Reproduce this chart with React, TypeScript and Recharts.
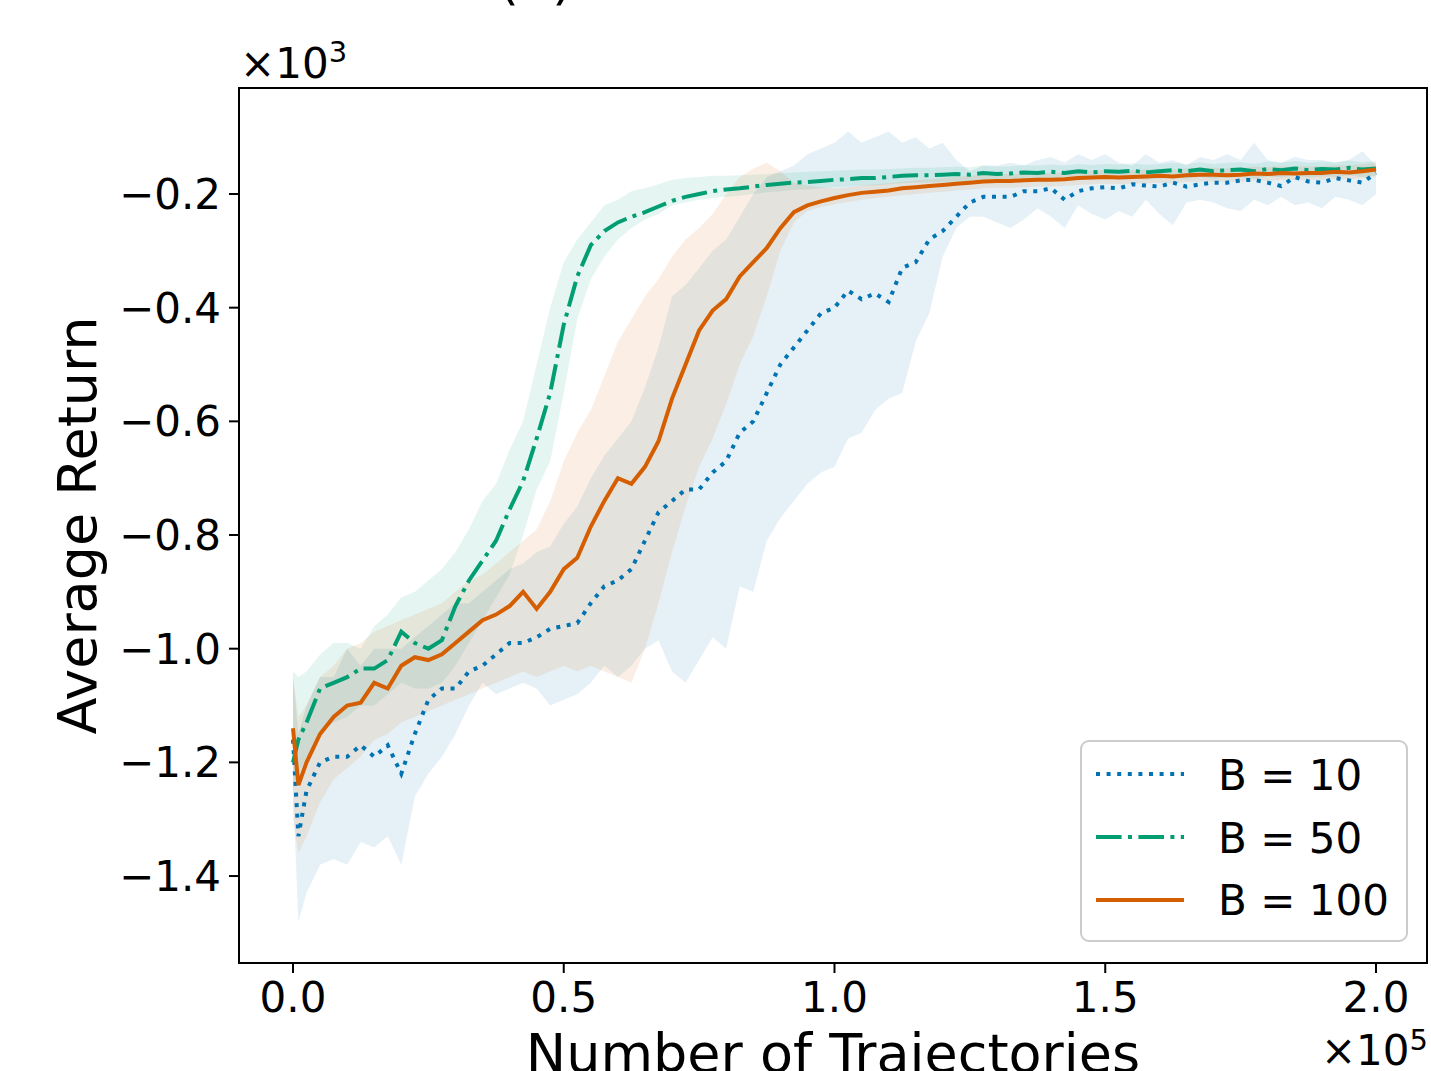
import React from 'react';
import { ComposedChart, Line, Area, XAxis, YAxis, ReferenceArea, Legend, Label } from 'recharts';

// number of trajectories (x 10^5)
const X = [
  0, 0.01, 0.025, 0.05, 0.075, 0.1, 0.125, 0.15, 0.175, 0.2,
  0.225, 0.25, 0.275, 0.3, 0.325, 0.35, 0.375, 0.4, 0.425, 0.45,
  0.475, 0.5, 0.525, 0.55, 0.575, 0.6, 0.625, 0.65, 0.675, 0.7,
  0.725, 0.75, 0.775, 0.8, 0.825, 0.85, 0.875, 0.9, 0.925, 0.95,
  0.975, 1.0, 1.025, 1.05, 1.075, 1.1, 1.125, 1.15, 1.175, 1.2,
  1.225, 1.25, 1.275, 1.3, 1.325, 1.35, 1.375, 1.4, 1.425, 1.45,
  1.475, 1.5, 1.525, 1.55, 1.575, 1.6, 1.625, 1.65, 1.675, 1.7,
  1.725, 1.75, 1.775, 1.8, 1.825, 1.85, 1.875, 1.9, 1.925, 1.95,
  1.975, 2.0,
];

// average return (x 10^3), B = 10
const B10_MEAN = [
  -1.16, -1.33, -1.25, -1.20, -1.19, -1.19, -1.17, -1.19, -1.17, -1.22,
  -1.15, -1.09, -1.07, -1.07, -1.04, -1.03, -1.01, -0.99, -0.99, -0.98,
  -0.965, -0.96, -0.955, -0.92, -0.89, -0.88, -0.86, -0.81, -0.76, -0.74,
  -0.72, -0.72, -0.69, -0.67, -0.62, -0.60, -0.55, -0.50, -0.47, -0.44,
  -0.41, -0.40, -0.37, -0.385, -0.375, -0.39, -0.33, -0.32, -0.28, -0.265,
  -0.24, -0.215, -0.205, -0.205, -0.205, -0.195, -0.195, -0.19, -0.21, -0.195,
  -0.19, -0.188, -0.19, -0.183, -0.185, -0.187, -0.18, -0.187, -0.183, -0.18,
  -0.18, -0.176, -0.175, -0.18, -0.186, -0.17, -0.178, -0.18, -0.172, -0.176,
  -0.18, -0.163,
];
const B10_LO = [
  -1.25, -1.48, -1.43, -1.38, -1.37, -1.38, -1.34, -1.35, -1.33, -1.38,
  -1.26, -1.22, -1.19, -1.15, -1.10, -1.06, -1.08, -1.07, -1.06, -1.07,
  -1.10, -1.09, -1.08, -1.06, -1.03, -1.05, -1.03, -1.00, -0.985, -1.04,
  -1.06, -1.02, -0.98, -1.00, -0.89, -0.90, -0.81, -0.77, -0.74, -0.71,
  -0.69, -0.68, -0.63, -0.62, -0.58, -0.56, -0.55, -0.46, -0.41, -0.31,
  -0.26, -0.24, -0.24, -0.25, -0.26, -0.245, -0.225, -0.24, -0.26, -0.22,
  -0.235, -0.245, -0.23, -0.24, -0.21, -0.235, -0.255, -0.215, -0.21, -0.215,
  -0.225, -0.23, -0.21, -0.22, -0.205, -0.22, -0.215, -0.225, -0.205, -0.21,
  -0.22, -0.2,
];
const B10_HI = [
  -1.05, -1.15, -1.10, -1.05, -1.05, -1.00, -1.03, -1.00, -1.00, -1.00,
  -0.98, -0.96, -0.94, -0.92, -0.92, -0.90, -0.88, -0.86, -0.85, -0.83,
  -0.82, -0.78, -0.75, -0.70, -0.66, -0.63, -0.60, -0.54, -0.47, -0.38,
  -0.36, -0.33, -0.30, -0.28, -0.24, -0.20, -0.17, -0.16, -0.15, -0.13,
  -0.12, -0.11, -0.09, -0.11, -0.10, -0.09, -0.11, -0.10, -0.12, -0.11,
  -0.14, -0.16, -0.15, -0.15, -0.145, -0.15, -0.14, -0.135, -0.145, -0.13,
  -0.14, -0.13, -0.145, -0.15, -0.13, -0.145, -0.14, -0.15, -0.135, -0.14,
  -0.13, -0.14, -0.11, -0.14, -0.145, -0.135, -0.14, -0.14, -0.145, -0.14,
  -0.125, -0.15,
];

// B = 50
const B50_MEAN = [
  -1.20, -1.16, -1.13, -1.07, -1.06, -1.05, -1.035, -1.035, -1.02, -0.97,
  -0.99, -1.00, -0.985, -0.925, -0.88, -0.845, -0.81, -0.755, -0.705, -0.63,
  -0.55, -0.43, -0.345, -0.29, -0.265, -0.25, -0.24, -0.232, -0.222, -0.212,
  -0.205, -0.20, -0.195, -0.192, -0.19, -0.187, -0.184, -0.182, -0.18, -0.179,
  -0.177, -0.175, -0.174, -0.172, -0.172, -0.17, -0.168, -0.167, -0.167, -0.166,
  -0.165, -0.166, -0.163, -0.165, -0.164, -0.162, -0.163, -0.161, -0.163, -0.16,
  -0.162, -0.16, -0.161, -0.159, -0.162, -0.16, -0.158, -0.16, -0.157, -0.16,
  -0.158, -0.157, -0.16, -0.156, -0.158, -0.155, -0.158, -0.156, -0.157, -0.154,
  -0.157, -0.155,
];
const B50_LO = [
  -1.25, -1.22, -1.19, -1.15, -1.13, -1.12, -1.10, -1.10, -1.08, -1.06,
  -1.07, -1.07, -1.06, -1.03, -0.99, -0.95, -0.91, -0.87, -0.80, -0.72,
  -0.67, -0.55, -0.42, -0.35, -0.31, -0.28, -0.26, -0.245, -0.235, -0.22,
  -0.215, -0.21, -0.207, -0.205, -0.203, -0.2, -0.197, -0.195, -0.193, -0.192,
  -0.19, -0.188, -0.187, -0.185, -0.185, -0.183, -0.181, -0.18, -0.18, -0.179,
  -0.178, -0.179, -0.176, -0.178, -0.177, -0.175, -0.176, -0.174, -0.176, -0.173,
  -0.175, -0.173, -0.174, -0.172, -0.175, -0.173, -0.171, -0.173, -0.17, -0.173,
  -0.171, -0.17, -0.173, -0.169, -0.171, -0.168, -0.171, -0.169, -0.17, -0.167,
  -0.17, -0.168,
];
const B50_HI = [
  -1.04, -1.05, -1.04, -1.01, -0.99, -0.99, -1.00, -0.96, -0.94, -0.91,
  -0.90, -0.88, -0.86, -0.83, -0.79, -0.74, -0.71, -0.65, -0.60, -0.50,
  -0.40, -0.32, -0.28, -0.25, -0.22, -0.21, -0.195, -0.19, -0.183, -0.175,
  -0.172, -0.17, -0.168, -0.168, -0.167, -0.166, -0.165, -0.163, -0.162, -0.161,
  -0.16, -0.159, -0.158, -0.157, -0.157, -0.156, -0.155, -0.154, -0.154, -0.153,
  -0.152, -0.153, -0.15, -0.152, -0.151, -0.149, -0.15, -0.148, -0.15, -0.147,
  -0.149, -0.147, -0.148, -0.146, -0.149, -0.147, -0.145, -0.147, -0.144, -0.147,
  -0.145, -0.144, -0.147, -0.143, -0.145, -0.142, -0.145, -0.143, -0.144, -0.141,
  -0.144, -0.142,
];

// B = 100
const B100_MEAN = [
  -1.14, -1.24, -1.20, -1.15, -1.12, -1.10, -1.095, -1.06, -1.07, -1.03,
  -1.015, -1.02, -1.01, -0.99, -0.97, -0.95, -0.94, -0.925, -0.90, -0.93,
  -0.90, -0.86, -0.84, -0.785, -0.74, -0.70, -0.71, -0.68, -0.635, -0.56,
  -0.50, -0.44, -0.405, -0.385, -0.345, -0.32, -0.295, -0.26, -0.232, -0.22,
  -0.213, -0.207, -0.202, -0.198, -0.196, -0.194, -0.19, -0.188, -0.186, -0.184,
  -0.182, -0.18, -0.178, -0.177, -0.177, -0.176, -0.175, -0.175, -0.174, -0.172,
  -0.171, -0.17, -0.171, -0.17, -0.169, -0.168, -0.169, -0.167, -0.166, -0.166,
  -0.167, -0.166, -0.164, -0.165, -0.163, -0.164, -0.163, -0.163, -0.161, -0.162,
  -0.16, -0.157,
];
const B100_LO = [
  -1.30, -1.36, -1.33, -1.27, -1.23, -1.21, -1.19, -1.16, -1.15, -1.13,
  -1.12, -1.11, -1.10, -1.09, -1.08, -1.07, -1.06, -1.05, -1.04, -1.05,
  -1.04, -1.03, -1.04, -1.03, -1.04, -1.05, -1.06, -1.00, -0.92, -0.83,
  -0.75, -0.68, -0.63, -0.57, -0.50, -0.45, -0.38, -0.30, -0.25, -0.23,
  -0.223, -0.218, -0.214, -0.21, -0.207, -0.205, -0.202, -0.2, -0.198, -0.196,
  -0.194, -0.192, -0.19, -0.189, -0.189, -0.188, -0.187, -0.187, -0.186, -0.184,
  -0.183, -0.182, -0.183, -0.182, -0.181, -0.18, -0.181, -0.179, -0.178, -0.178,
  -0.179, -0.178, -0.176, -0.177, -0.175, -0.176, -0.175, -0.175, -0.173, -0.174,
  -0.172, -0.169,
];
const B100_HI = [
  -1.05, -1.12, -1.10, -1.05, -1.03, -1.00, -0.99, -0.97, -0.96, -0.95,
  -0.94, -0.93, -0.92, -0.90, -0.88, -0.87, -0.85, -0.83, -0.81, -0.79,
  -0.74, -0.67, -0.62, -0.58, -0.52, -0.46, -0.42, -0.38, -0.35, -0.31,
  -0.28, -0.26, -0.235, -0.20, -0.17, -0.155, -0.145, -0.16, -0.18, -0.185,
  -0.188, -0.19, -0.188, -0.185, -0.183, -0.181, -0.178, -0.176, -0.174, -0.172,
  -0.17, -0.168, -0.166, -0.165, -0.165, -0.164, -0.163, -0.163, -0.162, -0.16,
  -0.159, -0.158, -0.159, -0.158, -0.157, -0.156, -0.157, -0.155, -0.154, -0.154,
  -0.155, -0.154, -0.152, -0.153, -0.151, -0.152, -0.151, -0.151, -0.149, -0.15,
  -0.148, -0.145,
];

const X_TICKS = [0, 0.5, 1.0, 1.5, 2.0];
const Y_TICKS = [-1.4, -1.2, -1.0, -0.8, -0.6, -0.4, -0.2];
const LEGEND_LABELS = ['B = 10', 'B = 50', 'B = 100'];

const BLUE = '#0173B2';
const GREEN = '#029E73';
const ORANGE = '#D55E00';
const FONT = 'DejaVu Sans';

const X_DOMAIN = [-0.0997, 2.0942];
const Y_DOMAIN = [-1.553, -0.0135];

const data = X.map((x, i) => ({
  x,
  b10: B10_MEAN[i],
  b10Band: [B10_LO[i], B10_HI[i]],
  b50: B50_MEAN[i],
  b50Band: [B50_LO[i], B50_HI[i]],
  b100: B100_MEAN[i],
  b100Band: [B100_LO[i], B100_HI[i]],
}));

const fmt = (v: number) => v.toFixed(1).replace('-', '\u2212');

const LegendBox = () => {
  const styles = [
    { color: BLUE, dash: '4 6.6' },
    { color: GREEN, dash: '25.6 6.4 4 6.4' },
    { color: ORANGE, dash: undefined },
  ];
  return (
    <svg width={330} height={204} style={{ display: 'block' }}>
      <rect x={1} y={1} width={326} height={200} rx={8} fill="rgba(255,255,255,0.8)" stroke="#cccccc" strokeWidth={2} />
      {LEGEND_LABELS.map((lab, i) => (
        <g key={lab}>
          <line x1={16} x2={104} y1={34 + i * 63} y2={34 + i * 63} stroke={styles[i].color} strokeWidth={4} strokeDasharray={styles[i].dash} />
          <text x={138} y={50 + i * 62.5} fontSize={42} fontFamily={FONT} fill="#000">{lab}</text>
        </g>
      ))}
    </svg>
  );
};

export default function App() {
  return (
    <div style={{ position: 'absolute', left: 0, top: 0, width: 1431, height: 1071, background: '#fff' }}>
      <ComposedChart width={1431} height={1071} data={data} margin={{ top: 88, right: 4, bottom: 0, left: 0 }}>
        <XAxis
          dataKey="x" type="number" domain={X_DOMAIN} ticks={X_TICKS} allowDataOverflow
          tickFormatter={(v: number) => v.toFixed(1)}
          height={108} tickSize={10} tickMargin={9}
          axisLine={{ stroke: '#000', strokeWidth: 2 }} tickLine={{ stroke: '#000', strokeWidth: 2 }}
          tick={{ fill: '#000', fontSize: 42, fontFamily: FONT }}
        >
          <Label content={() => (
            <g fontFamily={FONT} fill="#000">
              <text x={833} y={1072} textAnchor="middle" fontSize={54}>Number of Trajectories</text>
              <text x={1428} y={1065} textAnchor="end" fontSize={42}>
                ×10<tspan dy={-15} fontSize={29}>5</tspan>
              </text>
            </g>
          )} />
        </XAxis>
        <YAxis
          type="number" domain={Y_DOMAIN} ticks={Y_TICKS} allowDataOverflow
          tickFormatter={fmt} width={239} tickSize={10} tickMargin={8}
          axisLine={{ stroke: '#000', strokeWidth: 2 }} tickLine={{ stroke: '#000', strokeWidth: 2 }}
          tick={{ fill: '#000', fontSize: 42, fontFamily: FONT }}
        >
          <Label content={() => (
            <g fontFamily={FONT} fill="#000">
              <text x={96} y={525.5} transform="rotate(-90 96 525.5)" textAnchor="middle" fontSize={54}>Average Return</text>
              <text x={240} y={78} fontSize={42}>
                ×10<tspan dy={-16} fontSize={29}>3</tspan>
              </text>
              <text x={535.5} y={-1} textAnchor="middle" fontSize={54}>(a)</text>
            </g>
          )} />
        </YAxis>

        {/* B = 10 */}
        <Area dataKey="b10Band" type="linear" stroke="none" fill={BLUE} fillOpacity={0.1} isAnimationActive={false} />
        <Line dataKey="b10" name="B = 10" type="linear" stroke={BLUE} strokeWidth={4} strokeDasharray="4 6.6" dot={false} isAnimationActive={false} />

        {/* B = 50 */}
        <Area dataKey="b50Band" type="linear" stroke="none" fill={GREEN} fillOpacity={0.1} isAnimationActive={false} />
        <Line dataKey="b50" name="B = 50" type="linear" stroke={GREEN} strokeWidth={4} strokeDasharray="25.6 6.4 4 6.4" dot={false} isAnimationActive={false} />

        {/* B = 100 */}
        <Area dataKey="b100Band" type="linear" stroke="none" fill={ORANGE} fillOpacity={0.1} isAnimationActive={false} />
        <Line dataKey="b100" name="B = 100" type="linear" stroke={ORANGE} strokeWidth={4} dot={false} isAnimationActive={false} />

        {/* axes frame */}
        <ReferenceArea x1={X_DOMAIN[0]} x2={X_DOMAIN[1]} y1={Y_DOMAIN[0]} y2={Y_DOMAIN[1]} fill="none" stroke="#000" strokeWidth={2} ifOverflow="visible" />

        <Legend
          layout="vertical" align="center" verticalAlign="middle"
          content={() => <LegendBox />}
          wrapperStyle={{ position: 'absolute', left: 1080, top: 740, width: 330, height: 204 }}
        />
      </ComposedChart>
    </div>
  );
}
